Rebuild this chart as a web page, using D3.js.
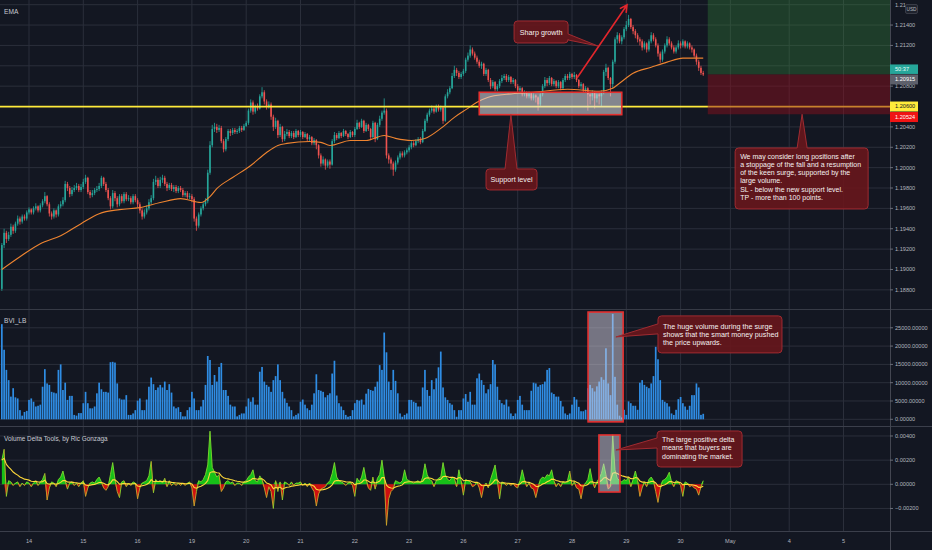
<!DOCTYPE html>
<html><head><meta charset="utf-8">
<script src="https://cdn.jsdelivr.net/npm/d3@7"></script>
<style>
html,body{margin:0;padding:0;background:#131722;}
svg{display:block;}
text{font-family:"Liberation Sans",Arial,sans-serif;}
</style></head><body>
<svg id="c" width="932" height="550"></svg>
<script>
// ---------------- DATA ----------------
const dayTicks  = [12,36,60,84,108,132,156,180,204,228,252,276,300,322,348,372];
const dayLabels = ["14","15","16","19","20","21","22","23","26","27","28","29","30","May","4","5"];
const priceTicks  = [1.188,1.190,1.192,1.194,1.196,1.198,1.200,1.202,1.204,1.206,1.208,1.210,1.212,1.214,1.216];
const volumeTicks = [0,5000,10000,15000,20000,25000];
const deltaTicks  = [-0.002,0,0.002,0.004];

const firstOpen = 1.1881;
const closes = [
1.1924,1.1936,1.1930,1.1934,1.1942,1.1938,1.1945,1.1950,1.1947,1.1952,1.1950,1.1956,
1.1959,1.1956,1.1960,1.1962,1.1958,1.1963,1.1967,1.1972,1.1964,1.1955,1.1952,1.1958,
1.1954,1.1962,1.1964,1.1968,1.1984,1.1980,1.1974,1.1978,1.1980,1.1982,1.1978,1.1981,
1.1986,1.1990,1.1976,1.1973,1.1975,1.1978,1.1979,1.1982,1.1990,1.1984,1.1978,1.1970,
1.1962,1.1975,1.1970,1.1964,1.1972,1.1967,1.1974,1.1969,1.1970,1.1966,1.1972,1.1968,
1.1964,1.1958,1.1952,1.1956,1.1960,1.1966,1.1970,1.1986,1.1988,1.1982,1.1988,1.1990,
1.1984,1.1980,1.1983,1.1979,1.1981,1.1977,1.1980,1.1978,1.1973,1.1975,1.1971,1.1972,
1.1969,1.1950,1.1943,1.1954,1.1960,1.1964,1.1967,1.1995,1.2022,1.2038,1.2040,1.2037,
1.2039,1.2026,1.2018,1.2028,1.2036,1.2034,1.2037,1.2035,1.2036,1.2039,1.2037,1.2041,
1.2044,1.2056,1.2064,1.2055,1.2060,1.2058,1.2070,1.2074,1.2065,1.2060,1.2062,1.2050,
1.2040,1.2046,1.2032,1.2040,1.2028,1.2033,1.2035,1.2031,1.2034,1.2030,1.2036,1.2032,
1.2035,1.2030,1.2033,1.2028,1.2030,1.2024,1.2027,1.2022,1.2012,1.2004,1.2008,1.2002,
1.2006,1.2003,1.2026,1.2032,1.2029,1.2034,1.2031,1.2036,1.2033,1.2030,1.2035,1.2032,
1.2038,1.2044,1.2040,1.2046,1.2036,1.2042,1.2038,1.2030,1.2044,1.2028,1.2042,1.2048,
1.2054,1.2056,1.2012,1.2008,1.2004,1.1998,1.2005,1.2010,1.2014,1.2012,1.2015,1.2017,
1.2020,1.2024,1.2022,1.2026,1.2028,1.2025,1.2036,1.2046,1.2052,1.2056,1.2058,1.2055,
1.2060,1.2057,1.2059,1.2046,1.2070,1.2074,1.2078,1.2090,1.2096,1.2093,1.2089,1.2092,
1.2095,1.2106,1.2110,1.2116,1.2112,1.2108,1.2104,1.2100,1.2102,1.2092,1.2096,1.2086,
1.2080,1.2084,1.2077,1.2080,1.2085,1.2088,1.2090,1.2086,1.2089,1.2084,1.2086,1.2080,
1.2076,1.2078,1.2072,1.2074,1.2070,1.2073,1.2068,1.2071,1.2069,1.2062,1.2072,1.2080,
1.2086,1.2083,1.2088,1.2082,1.2085,1.2080,1.2084,1.2078,1.2086,1.2090,1.2088,1.2092,
1.2089,1.2091,1.2086,1.2080,1.2082,1.2076,1.2078,1.2072,1.2070,1.2074,1.2068,1.2072,
1.2070,1.2074,1.2094,1.2098,1.2088,1.2082,1.2104,1.2126,1.2130,1.2124,1.2128,1.2136,
1.2140,1.2146,1.2138,1.2134,1.2130,1.2126,1.2124,1.2118,1.2122,1.2116,1.2124,1.2130,
1.2126,1.2120,1.2112,1.2106,1.2114,1.2120,1.2126,1.2122,1.2118,1.2114,1.2118,1.2122,
1.2120,1.2124,1.2119,1.2122,1.2118,1.2116,1.2110,1.2104,1.2098,1.2093,1.20915];
const highs = [
1.1926,1.1940,1.1938,1.1937,1.1945,1.1944,1.1947,1.1953,1.1952,1.1954,1.1954,1.1958,
1.1961,1.1960,1.1962,1.1965,1.1963,1.1965,1.1969,1.1976,1.1973,1.1966,1.1957,1.1960,
1.1959,1.1964,1.1967,1.1971,1.1987,1.1986,1.1982,1.1981,1.1983,1.1985,1.1984,1.1984,
1.1989,1.1993,1.1991,1.1978,1.1978,1.1980,1.1982,1.1985,1.1992,1.1991,1.1986,1.1980,
1.1972,1.1978,1.1977,1.1972,1.1974,1.1974,1.1976,1.1976,1.1973,1.1972,1.1974,1.1974,
1.1970,1.1966,1.1960,1.1959,1.1963,1.1969,1.1973,1.1989,1.1992,1.1990,1.1991,1.1993,
1.1992,1.1986,1.1985,1.1985,1.1983,1.1983,1.1982,1.1982,1.1980,1.1977,1.1977,1.1975,
1.1974,1.1971,1.1952,1.1956,1.1962,1.1966,1.1970,1.1998,1.2026,1.2042,1.2044,1.2043,
1.2042,1.2041,1.2028,1.2030,1.2038,1.2038,1.2039,1.2039,1.2038,1.2041,1.2041,1.2043,
1.2046,1.2058,1.2067,1.2066,1.2062,1.2063,1.2072,1.2079,1.2076,1.2067,1.2065,1.2064,
1.2052,1.2049,1.2047,1.2043,1.2041,1.2036,1.2038,1.2037,1.2036,1.2036,1.2038,1.2037,
1.2037,1.2036,1.2035,1.2034,1.2032,1.2031,1.2029,1.2028,1.2023,1.2014,1.2011,1.2009,
1.2008,1.2008,1.2028,1.2035,1.2034,1.2036,1.2035,1.2038,1.2037,1.2034,1.2037,1.2036,
1.2040,1.2047,1.2045,1.2048,1.2047,1.2044,1.2043,1.2039,1.2046,1.2045,1.2044,1.2051,
1.2056,1.2068,1.2058,1.2014,1.2010,1.2006,1.2007,1.2012,1.2016,1.2016,1.2017,1.2019,
1.2022,1.2026,1.2026,1.2028,1.2030,1.2030,1.2038,1.2048,1.2054,1.2058,1.2061,1.2060,
1.2062,1.2062,1.2061,1.2060,1.2072,1.2077,1.2080,1.2093,1.2100,1.2098,1.2095,1.2094,
1.2097,1.2108,1.2113,1.2120,1.2118,1.2114,1.2110,1.2106,1.2104,1.2103,1.2098,1.2097,
1.2088,1.2086,1.2085,1.2082,1.2087,1.2091,1.2092,1.2092,1.2091,1.2090,1.2088,1.2087,
1.2082,1.2080,1.2079,1.2076,1.2075,1.2075,1.2074,1.2073,1.2072,1.2070,1.2074,1.2082,
1.2089,1.2088,1.2090,1.2089,1.2087,1.2086,1.2086,1.2085,1.2088,1.2092,1.2092,1.2094,
1.2093,1.2094,1.2092,1.2087,1.2084,1.2083,1.2080,1.2079,1.2074,1.2076,1.2075,1.2074,
1.2074,1.2076,1.2096,1.2102,1.2099,1.2089,1.2106,1.2128,1.2133,1.2132,1.2130,1.2138,
1.2144,1.2150,1.2147,1.2140,1.2136,1.2132,1.2128,1.2126,1.2124,1.2123,1.2126,1.2133,
1.2132,1.2128,1.2122,1.2114,1.2116,1.2122,1.2129,1.2128,1.2124,1.2120,1.2120,1.2125,
1.2124,1.2126,1.2125,1.2124,1.2123,1.2120,1.2117,1.2112,1.2106,1.2100,1.2095];
const lows = [
1.1879,1.1921,1.1926,1.1928,1.1932,1.1935,1.1936,1.1943,1.1944,1.1945,1.1948,1.1948,
1.1954,1.1954,1.1954,1.1958,1.1956,1.1956,1.1961,1.1965,1.1962,1.1952,1.1949,1.1950,
1.1951,1.1952,1.1960,1.1962,1.1966,1.1977,1.1971,1.1972,1.1976,1.1978,1.1976,1.1976,
1.1979,1.1984,1.1974,1.1970,1.1971,1.1973,1.1976,1.1977,1.1980,1.1982,1.1976,1.1968,
1.1959,1.1960,1.1967,1.1961,1.1962,1.1965,1.1965,1.1967,1.1967,1.1964,1.1964,1.1966,
1.1961,1.1955,1.1949,1.1950,1.1954,1.1958,1.1964,1.1968,1.1983,1.1980,1.1980,1.1985,
1.1982,1.1977,1.1978,1.1977,1.1976,1.1975,1.1975,1.1976,1.1971,1.1971,1.1969,1.1969,
1.1966,1.1947,1.1938,1.1941,1.1952,1.1958,1.1962,1.1965,1.1993,1.2020,1.2035,1.2034,
1.2035,1.2024,1.2015,1.2016,1.2026,1.2031,1.2032,1.2033,1.2033,1.2034,1.2035,1.2036,
1.2040,1.2042,1.2054,1.2052,1.2053,1.2056,1.2057,1.2068,1.2062,1.2057,1.2058,1.2047,
1.2036,1.2038,1.2029,1.2030,1.2025,1.2026,1.2031,1.2029,1.2029,1.2028,1.2029,1.2030,
1.2030,1.2028,1.2029,1.2026,1.2026,1.2022,1.2022,1.2018,1.2009,1.2001,1.2002,1.1998,
1.2000,1.1999,1.2002,1.2024,1.2027,1.2028,1.2029,1.2030,1.2031,1.2028,1.2029,1.2030,
1.2030,1.2037,1.2038,1.2039,1.2034,1.2035,1.2036,1.2027,1.2029,1.2025,1.2027,1.2040,
1.2046,1.2052,1.2009,1.2004,1.1998,1.1992,1.1996,1.2003,1.2008,1.2010,1.2010,1.2013,
1.2015,1.2018,1.2020,1.2021,1.2024,1.2023,1.2024,1.2035,1.2044,1.2050,1.2054,1.2053,
1.2054,1.2055,1.2055,1.2043,1.2045,1.2068,1.2072,1.2077,1.2088,1.2090,1.2087,1.2087,
1.2090,1.2093,1.2104,1.2108,1.2110,1.2106,1.2102,1.2098,1.2097,1.2090,1.2090,1.2084,
1.2077,1.2078,1.2075,1.2075,1.2078,1.2083,1.2086,1.2084,1.2084,1.2082,1.2082,1.2078,
1.2074,1.2073,1.2070,1.2070,1.2068,1.2068,1.2066,1.2066,1.2064,1.2056,1.2060,1.2070,
1.2078,1.2080,1.2081,1.2080,1.2080,1.2078,1.2078,1.2076,1.2077,1.2084,1.2086,1.2086,
1.2087,1.2087,1.2084,1.2078,1.2077,1.2074,1.2074,1.2056,1.2062,1.2066,1.2058,1.2064,
1.2062,1.2060,1.2072,1.2090,1.2086,1.2070,1.2078,1.2102,1.2122,1.2122,1.2121,1.2126,
1.2134,1.2138,1.2136,1.2131,1.2127,1.2123,1.2120,1.2115,1.2116,1.2113,1.2114,1.2122,
1.2124,1.2118,1.2109,1.2103,1.2104,1.2112,1.2118,1.2120,1.2116,1.2112,1.2112,1.2116,
1.2117,1.2118,1.2117,1.2117,1.2116,1.2113,1.2108,1.2101,1.2095,1.2091,1.2090];
const volumes = [
26000,19000,13500,10700,6200,8500,6000,5700,2500,1000,2000,2300,
5300,5700,4800,3500,3700,4000,8900,13700,9800,9400,7500,7300,
7100,13500,15000,8000,10000,5300,6400,6400,1200,1000,1700,1700,
4400,7500,4400,3000,3000,3500,7100,10000,8200,7500,7500,7300,
15600,15700,15500,9800,5700,5400,5400,6600,1200,1200,1600,2500,
5100,5700,2500,2500,5400,8900,11400,9600,8000,8700,9400,8700,
10300,8000,9600,7300,3500,3000,3300,2000,800,800,2500,3300,
7500,5700,2500,2500,3500,5300,9400,17300,16200,9400,12100,10300,
14300,15400,8000,8000,6400,4000,3500,3500,800,1200,1600,1600,
3500,5700,4800,6000,4000,4000,13000,14300,10300,9400,8900,7500,
10700,11800,15000,10700,7500,5700,4500,3500,2500,800,1200,1600,
4800,5400,4000,3000,2500,4000,7100,12300,8000,7800,7500,6000,
6600,7100,12500,16000,6500,4400,3500,2500,1200,700,900,2500,
4400,5300,5100,5400,4000,7000,8300,8000,7800,8900,10300,14800,
13500,23700,18300,10300,8000,13500,10500,7100,1600,700,1200,1600,
5300,5300,4800,4500,3500,3500,8700,13500,8000,6400,10700,8200,
11200,14200,18500,8700,6000,5300,4400,4000,2500,700,2500,2500,
5700,6900,4800,7500,4000,4000,11200,12500,10700,9400,7100,8200,
9600,16200,15000,8900,5300,4400,4000,5400,3500,1600,900,1600,
5300,6400,4000,2500,2500,2500,7800,10000,9800,8900,9400,9600,
10300,13500,14000,7300,6900,6200,6200,5000,3500,1600,1200,1600,
4000,6100,5400,3400,2200,2200,2600,8500,9400,8500,7600,9000,
10300,11500,10800,19400,9800,6600,28800,11600,4000,1000,500,2600,
1200,4900,4400,3700,3700,2600,10000,10700,9400,8900,8500,9800,
11800,19800,16400,10700,5300,4800,4400,3500,1600,1200,2600,5500,
6100,4400,3500,2600,3700,6600,6600,9800,8700,1200,1500];
const deltas = [
0.0020,0.0029,-0.0010,0.0003,0.0002,-0.0001,0.0001,0.0002,-0.0002,0.0001,-0.0001,0.0002,
0.0001,-0.0002,0.0001,0.0003,-0.0001,0.0002,0.0004,0.0009,-0.0013,-0.0003,0.0002,0.0001,
-0.0002,0.0004,0.0006,0.0011,0.0003,-0.0004,0.0001,0.0002,-0.0001,0.0001,-0.0002,0.0001,
0.0003,-0.0010,-0.0003,0.0001,0.0002,0.0001,0.0004,0.0006,0.0002,-0.0003,-0.0005,-0.0002,
0.0008,0.0018,0.0004,-0.0006,-0.0011,0.0002,0.0003,-0.0002,0.0001,-0.0001,0.0002,0.0001,
-0.0012,-0.0003,0.0001,0.0002,0.0003,0.0007,0.0019,-0.0007,0.0004,0.0002,0.0003,0.0001,
0.0005,-0.0002,0.0003,-0.0001,0.0001,-0.0001,0.0001,-0.0001,0.0001,-0.0001,0.0001,0.0002,
-0.0003,-0.0018,-0.0006,0.0003,0.0002,0.0004,0.0008,0.0016,0.0044,0.0014,0.0010,0.0006,
0.0008,-0.0006,-0.0003,0.0002,0.0003,0.0001,0.0002,-0.0001,0.0001,0.0001,-0.0001,0.0002,
0.0003,0.0006,0.0008,0.0012,0.0003,0.0002,0.0007,0.0004,-0.0003,-0.0011,-0.0002,-0.0006,
-0.0020,0.0003,-0.0006,0.0002,-0.0013,0.0002,0.0001,-0.0001,0.0002,-0.0001,0.0001,0.0001,
0.0002,-0.0001,0.0001,-0.0002,0.0001,-0.0003,-0.0006,-0.0018,-0.0008,-0.0004,-0.0003,-0.0002,
0.0001,0.0003,0.0009,0.0018,0.0006,0.0003,0.0002,0.0001,-0.0001,0.0001,0.0002,-0.0001,
-0.0010,0.0005,0.0002,0.0006,0.0014,0.0004,-0.0003,-0.0005,0.0006,-0.0004,0.0005,0.0008,
0.0020,0.0006,-0.0034,-0.0012,-0.0006,-0.0004,0.0003,0.0002,0.0001,0.0003,0.0012,0.0004,
0.0003,0.0002,0.0001,0.0002,0.0003,0.0001,0.0006,0.0017,0.0008,0.0004,0.0003,-0.0002,
0.0003,0.0005,0.0006,0.0018,0.0008,0.0004,0.0003,0.0006,0.0005,-0.0002,0.0012,0.0003,
-0.0009,0.0004,0.0003,0.0002,-0.0002,-0.0001,0.0002,-0.0003,-0.0011,-0.0002,0.0001,-0.0003,
0.0004,0.0010,0.0016,0.0003,-0.0012,0.0002,0.0001,-0.0001,0.0001,-0.0001,0.0001,-0.0002,
-0.0003,0.0003,0.0012,0.0004,-0.0002,0.0001,-0.0003,-0.0004,-0.0011,-0.0003,0.0004,0.0006,
0.0005,0.0008,0.0007,0.0012,0.0003,-0.0002,0.0001,-0.0002,0.0002,0.0001,0.0003,0.0011,
-0.0001,0.0002,-0.0003,-0.0004,-0.0012,-0.0002,0.0001,0.0004,0.0013,0.0003,-0.0003,0.0002,
0.0005,0.0009,0.0017,0.0008,-0.0004,-0.0002,0.0041,0.0012,0.0005,0.0003,0.0002,0.0004,
0.0003,0.0006,-0.0002,0.0004,0.0011,0.0003,-0.0010,-0.0003,0.0002,-0.0002,0.0004,0.0006,
0.0003,-0.0006,-0.0015,-0.0004,0.0003,0.0004,0.0006,0.0010,0.0002,-0.0002,0.0003,0.0002,
-0.0001,-0.0010,0.0002,0.0001,-0.0002,-0.0001,-0.0003,-0.0004,-0.0009,-0.0002,0.0003];
const emaIndex  = [0,8,17,26,35,43,52,61,70,79,88,92,95,102,110,117,122,126,136,141,145,154,161,169,174,181,187,194,200,206,210,215,223,235,250,264,270,273,279,287,294,301,310];
const emaValues = [1.1900,1.19125,1.19253,1.19331,1.1945,1.19548,1.19588,1.19607,1.19657,1.19696,1.19657,1.19716,1.19794,1.19903,1.20021,1.20149,1.20218,1.20238,1.20257,1.20248,1.20218,1.20267,1.20267,1.20316,1.20287,1.20267,1.20287,1.20385,1.20494,1.20582,1.20642,1.20691,1.2072,1.2074,1.2077,1.2075,1.2078,1.20829,1.20927,1.20986,1.21036,1.21075,1.21075];
const supportLevel = 1.2060, stopLevel = 1.20524, lastPrice = 1.20915;
const countdown = "50:37";

// ---------------- LAYOUT ----------------
const W=932,H=550,AX=890;
const svg=d3.select('#c');
svg.append('rect').attr('width',W).attr('height',H).attr('fill','#131722');
const x =d3.scaleLinear().domain([0,392.55]).range([1.85,AX]);
const yP=d3.scaleLinear().domain([1.18612,1.21646]).range([309,0]);
const yV=d3.scaleLinear().domain([0,29860]).range([419.3,310]);
const yD=d3.scaleLinear().domain([-0.003867,0.004745]).range([531,427]);
const GRID='#2b2f3b', AXT='#b2b5be';
const defs=svg.append('defs');
function clip(id,y0,h){defs.append('clipPath').attr('id',id).append('rect').attr('x',0).attr('y',y0).attr('width',AX).attr('height',h);}
clip('cp',0,309.5);clip('cv',310,116);clip('cd',427,104);

// grid
const grid=svg.append('g');
grid.selectAll('.vg').data(dayTicks).join('line').attr('x1',d=>x(d)).attr('x2',d=>x(d)).attr('y1',0).attr('y2',531).attr('stroke',GRID);
grid.selectAll('.hp').data(priceTicks).join('line').attr('x1',0).attr('x2',AX).attr('y1',d=>yP(d)).attr('y2',d=>yP(d)).attr('stroke',GRID);
grid.selectAll('.hv').data(volumeTicks).join('line').attr('x1',0).attr('x2',AX).attr('y1',d=>yV(d)).attr('y2',d=>yV(d)).attr('stroke',GRID);
grid.selectAll('.hd').data(deltaTicks).join('line').attr('x1',0).attr('x2',AX).attr('y1',d=>yD(d)).attr('y2',d=>yD(d)).attr('stroke',GRID);

// ---------------- PRICE PANE ----------------
const gp=svg.append('g').attr('clip-path','url(#cp)');
const candles=closes.map((c,i)=>{const o=i?closes[i-1]:firstOpen;return {i,o,c,h:Math.max(highs[i],o,c),l:Math.min(lows[i],o,c)};});
const UP='#26a69a',DN='#ef5350';
gp.selectAll('.wk').data(candles).join('line').attr('x1',d=>x(d.i)).attr('x2',d=>x(d.i)).attr('y1',d=>yP(d.h)).attr('y2',d=>yP(d.l)).attr('stroke',d=>d.c>=d.o?UP:DN).attr('stroke-width',0.8);
gp.selectAll('.bd').data(candles).join('rect').attr('x',d=>x(d.i)-0.8).attr('width',1.6)
  .attr('y',d=>yP(Math.max(d.o,d.c))).attr('height',d=>Math.max(0.8,Math.abs(yP(d.o)-yP(d.c)))).attr('fill',d=>d.c>=d.o?UP:DN);
gp.append('path').datum(emaIndex.map((d,k)=>[d,emaValues[k]])).attr('fill','none').attr('stroke','#ee8430').attr('stroke-width',1.1)
  .attr('d',d3.line().x(d=>x(d[0])).y(d=>yP(d[1])).curve(d3.curveMonotoneX));
gp.append('line').attr('x1',0).attr('x2',AX).attr('y1',yP(supportLevel)).attr('y2',yP(supportLevel)).attr('stroke','#ffeb3b').attr('stroke-width',1.8);
// long position zones
gp.append('rect').attr('x',x(312)).attr('width',AX-x(312)).attr('y',0).attr('height',yP(lastPrice)).attr('fill','rgba(56,142,60,0.32)');
gp.append('rect').attr('x',x(312)).attr('width',AX-x(312)).attr('y',yP(lastPrice)).attr('height',yP(stopLevel)-yP(lastPrice)).attr('fill','rgba(140,14,30,0.48)');
// support rect
gp.append('rect').attr('x',x(211)).attr('width',x(274)-x(211)).attr('y',yP(1.2074)).attr('height',yP(1.2052)-yP(1.2074))
  .attr('fill','rgba(225,225,232,0.55)').attr('stroke','#e5302f').attr('stroke-width',1.6);
// arrow
(function(){const x1=x(254.2),y1=yP(1.2088),x2=x(276.3),y2=yP(1.21597);
 const a=Math.atan2(y2-y1,x2-x1),L=8,s=0.5;
 gp.append('path').attr('d',`M${x1},${y1}L${x2},${y2}M${x2-L*Math.cos(a-s)},${y2-L*Math.sin(a-s)}L${x2},${y2}L${x2-L*Math.cos(a+s)},${y2-L*Math.sin(a+s)}`)
  .attr('fill','none').attr('stroke','#e2262c').attr('stroke-width',1.6);})();

// ---------------- VOLUME PANE ----------------
const gv=svg.append('g').attr('clip-path','url(#cv)');
gv.selectAll('.vb').data(volumes).join('rect').attr('x',(d,i)=>x(i)-0.85).attr('width',1.7).attr('y',d=>yV(d)).attr('height',d=>yV(0)-yV(d)).attr('fill','#2f8de4');
gv.append('rect').attr('x',x(259.1)).attr('width',x(274.6)-x(259.1)).attr('y',yV(29300)).attr('height',yV(-700)-yV(29300))
  .attr('fill','rgba(215,210,225,0.5)').attr('stroke','#e5302f').attr('stroke-width',1.6);

// ---------------- DELTA PANE ----------------
const gd=svg.append('g').attr('clip-path','url(#cd)');
const signal=[];let s=0;deltas.forEach((d,i)=>{s=i?s+(d-s)*0.16:d;signal.push(s);});
gd.append('path').datum(deltas).attr('fill','#17d317').attr('opacity',0.9)
  .attr('d',d3.area().x((d,i)=>x(i)).y0(yD(0)).y1(d=>yD(Math.max(0,d))));
gd.append('path').datum(deltas).attr('fill','#e30e0e').attr('opacity',0.9)
  .attr('d',d3.area().x((d,i)=>x(i)).y0(yD(0)).y1(d=>yD(Math.min(0,d))));
gd.selectAll('.dl').data(deltas.slice(1)).join('line').attr('x1',(d,i)=>x(i)).attr('x2',(d,i)=>x(i+1))
  .attr('y1',(d,i)=>yD(deltas[i])).attr('y2',d=>yD(d)).attr('stroke',d=>d>=0?'#7fd92f':'#c9a52a').attr('stroke-width',0.9);
gd.append('path').datum(signal).attr('fill','none').attr('stroke','#ffd93a').attr('stroke-width',1.1)
  .attr('d',d3.line().x((d,i)=>x(i)).y(d=>yD(d)));
gd.append('rect').attr('x',x(263.9)).attr('width',x(273.2)-x(263.9)).attr('y',yD(0.004083)).attr('height',yD(-0.000638)-yD(0.004083))
  .attr('fill','rgba(215,210,225,0.5)').attr('stroke','#e5302f').attr('stroke-width',1.6);

// ---------------- CALLOUTS ----------------
function calloutPath(bx,by,w,h,r,side,b0,b1,tx,ty){
  const x0=bx,y0=by,x1=bx+w,y1=by+h;let p=`M${x0+r},${y0}`;
  if(side==='top')p+=`L${x0+b0},${y0}L${tx},${ty}L${x0+b1},${y0}`;
  p+=`L${x1-r},${y0}Q${x1},${y0} ${x1},${y0+r}`;
  if(side==='right')p+=`L${x1},${y0+b0}L${tx},${ty}L${x1},${y0+b1}`;
  p+=`L${x1},${y1-r}Q${x1},${y1} ${x1-r},${y1}L${x0+r},${y1}Q${x0},${y1} ${x0},${y1-r}`;
  if(side==='left')p+=`L${x0},${y0+b1}L${tx},${ty}L${x0},${y0+b0}`;
  p+=`L${x0},${y0+r}Q${x0},${y0} ${x0+r},${y0}Z`;return p;}
const scaleOf={price:yP,vol:yV,delta:yD};
const callouts=[
 {pane:'price',at:[226.4,1.2144],w:54,h:22,side:'right',base:[13,19],tip:[263.5,1.21194],lines:["Sharp growth"],mid:true,top:14,step:8,size:7.2},
 {pane:'price',at:[214,1.19987],w:51,h:21,side:'top',base:[19,31],tip:[225,1.2052],lines:["Support level"],mid:true,top:13.5,step:8,size:7.2},
 {pane:'price',at:[324.1,1.20193],w:133,h:61,side:'top',base:[62,72],tip:[353.7,stopLevel],
  lines:["We may consider long positions after","a stoppage of the fall and a resumption","of the keen surge, supported by the","large volume.","SL - below the new support level.","TP - more than 100 points."],top:10.6,step:8.3,size:7},
 {pane:'vol',at:[290,28250],w:124,h:37,side:'left',base:[8,18],tip:[271.4,22500],
  lines:["The huge volume during the surge","shows that the smart money pushed","the price upwards."],top:13,step:8,size:7.2},
 {pane:'delta',at:[289.6,0.004414],w:85,h:36,side:'left',base:[7,17],tip:[271.4,0.002841],
  lines:["The large positive delta","means that buyers are","dominating the market."],top:11,step:8.4,size:7}
];
const gc=svg.append('g');
callouts.forEach(c=>{const ys=scaleOf[c.pane];const bx=x(c.at[0]),by=ys(c.at[1]);
  gc.append('path').attr('d',calloutPath(bx,by,c.w,c.h,3.5,c.side,c.base[0],c.base[1],x(c.tip[0]),ys(c.tip[1])))
    .attr('fill','rgba(104,22,28,0.9)').attr('stroke','#a02b31').attr('stroke-width',1);
  c.lines.forEach((t,k)=>gc.append('text').attr('x',c.mid?bx+c.w/2:bx+5).attr('y',by+c.top+k*c.step)
    .attr('text-anchor',c.mid?'middle':'start').attr('font-size',c.size).attr('fill','#f4f0f0').text(t));
});

// ---------------- AXES / LABELS ----------------
const ax=svg.append('g');
[[309.5,'#363a45'],[426.5,'#3b3f4b'],[531.5,'#3b3f4b']].forEach(([y,c])=>ax.append('line').attr('x1',0).attr('x2',W).attr('y1',y).attr('y2',y).attr('stroke',c).attr('stroke-width',1.2));
ax.append('line').attr('x1',AX+0.5).attr('x2',AX+0.5).attr('y1',0).attr('y2',H).attr('stroke','#434651');
// badge bands on the price axis (tick labels hidden behind them, as on the reference)
const yl=yP(lastPrice), ysp=yP(supportLevel);
const redTop=Math.max(yP(stopLevel)-5,ysp+5.5);
const bands=[[yl-10,yl+10],[ysp-5,redTop+10]];
function hidden(y){return bands.some(b=>y>b[0]-1.5&&y<b[1]+1.5);}
function axLabels(ticks,sc,fmt,hide){ticks.forEach(t=>{ax.append('line').attr('x1',AX).attr('x2',AX+3).attr('y1',sc(t)).attr('y2',sc(t)).attr('stroke','#6a6d78');
  if(hide&&hidden(sc(t)))return;
  ax.append('text').attr('x',AX+5).attr('y',sc(t)).attr('dy','0.35em').attr('font-size',5.6).attr('fill',AXT).text(fmt(t));});}
axLabels(priceTicks.filter(t=>t<1.2155),yP,d3.format('.5f'),true);
axLabels(volumeTicks,yV,d3.format('.5f'),false);
axLabels(deltaTicks,yD,d3.format('.5f'),false);
ax.selectAll('.xl').data(dayTicks).join('text').attr('x',d=>x(d)).attr('y',543).attr('text-anchor','middle').attr('font-size',5.6).attr('fill',AXT).text((d,i)=>dayLabels[i]);
// top tick label, partly covered by the currency badge
ax.append('text').attr('x',AX+5).attr('y',yP(1.216)).attr('dy','0.35em').attr('font-size',5.6).attr('fill',AXT).text('1.21');
// price badges
function badge(y0,h,bg,fg,t){ax.append('rect').attr('x',AX).attr('y',y0).attr('width',28).attr('height',h).attr('fill',bg);
  ax.append('text').attr('x',AX+5).attr('y',y0+h/2).attr('dy','0.35em').attr('font-size',5.6).attr('fill',fg).text(t);}
badge(yl-10,9.5,'#26a69a','#e8fffb',countdown);
badge(yl,10,'#5d606b','#ffffff',d3.format('.5f')(lastPrice));
badge(ysp-5,10,'#ffeb3b','#131722',d3.format('.5f')(supportLevel));
badge(redTop,10,'#f01414','#ffffff',d3.format('.5f')(stopLevel));
ax.append('rect').attr('x',905.5).attr('y',4.5).attr('width',12).attr('height',9).attr('rx',1.5).attr('fill','#1e222d').attr('stroke','#50535e').attr('stroke-width',0.6);
ax.append('text').attr('x',911.5).attr('y',9).attr('dy','0.35em').attr('text-anchor','middle').attr('font-size',4.8).attr('fill',AXT).text('USD');
// pane titles
ax.append('text').attr('x',4).attr('y',14).attr('font-size',6.6).attr('fill','#c8cbd3').text('EMA');
ax.append('text').attr('x',4).attr('y',323).attr('font-size',6.6).attr('fill','#c8cbd3').text('BVI_LB');
ax.append('text').attr('x',4).attr('y',441).attr('font-size',6.4).attr('fill','#c8cbd3').text('Volume Delta Tools, by Ric Gonzaga');
</script>
</body></html>
